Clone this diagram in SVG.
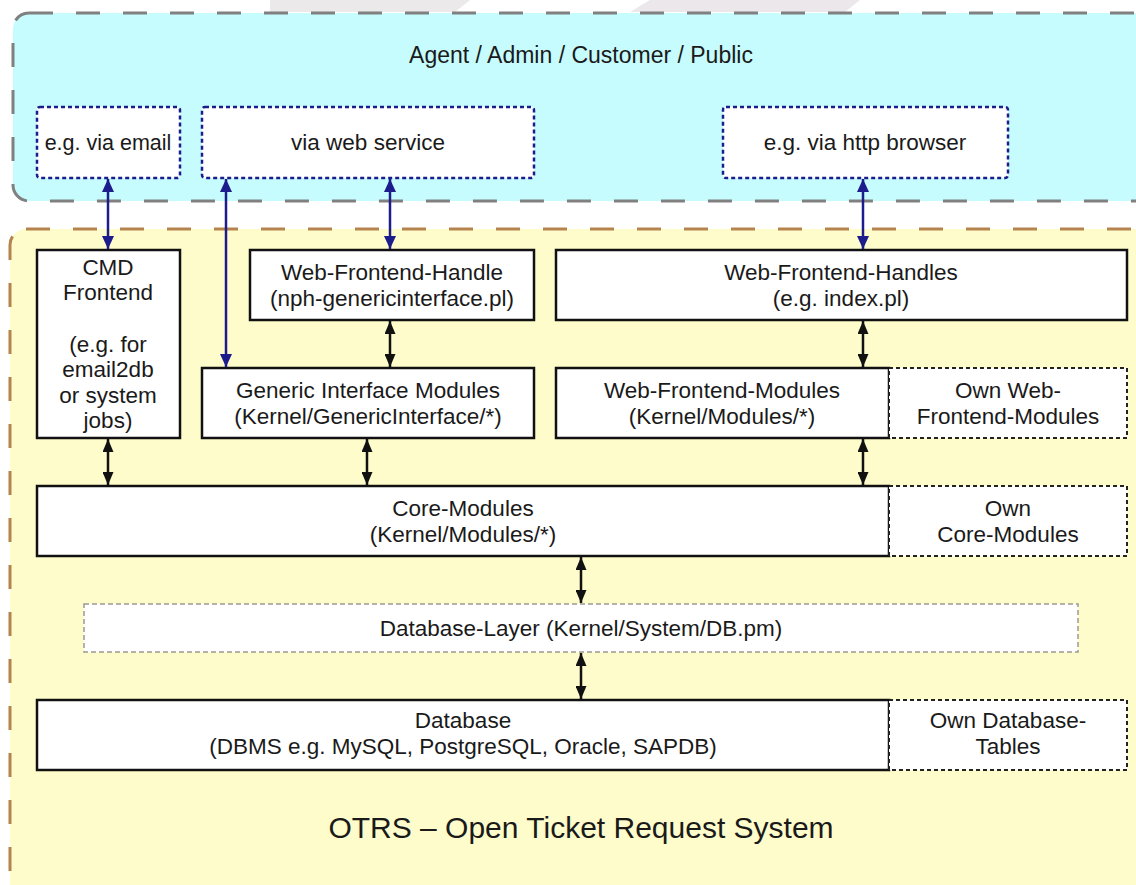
<svg xmlns="http://www.w3.org/2000/svg" width="1136" height="885" viewBox="0 0 1136 885">
<style>
text{font-family:"Liberation Sans",Arial,sans-serif;font-size:22.5px;fill:#1a1a1a;text-anchor:middle}
.box{fill:#fff;stroke:#111;stroke-width:2.5}
.own{fill:#fff;stroke:#222;stroke-width:2;stroke-dasharray:4 3}
.ch{fill:#fff;stroke:#1c1c8c;stroke-width:2.5;stroke-dasharray:4 3}
.blue{stroke:#1c1c8c;stroke-width:2.5;fill:none;marker-start:url(#ab);marker-end:url(#ab)}
.blk{stroke:#111;stroke-width:2.5;fill:none;marker-start:url(#ak);marker-end:url(#ak)}
</style>
<defs>
<marker id="ab" markerUnits="userSpaceOnUse" markerWidth="13" markerHeight="12" refX="13" refY="6" orient="auto-start-reverse"><path d="M0,0 L13,6 L0,12 z" fill="#1c1c8c"/></marker>
<marker id="ak" markerUnits="userSpaceOnUse" markerWidth="13" markerHeight="11" refX="13" refY="5.5" orient="auto-start-reverse"><path d="M0,0 L13,5.5 L0,11 z" fill="#111"/></marker>
</defs>
<rect width="1136" height="885" fill="#fff"/>
<g id="watermark">
<polygon points="270,0 470,0 455,12 270,12" fill="#ebe9e9"/>
<polygon points="650,0 860,0 845,12 630,12" fill="#ece7ea"/>
</g>
<g id="actors">
<rect x="13" y="13" width="1150" height="188" rx="16" fill="#c6fcfd" stroke="#808080" stroke-width="3" stroke-dasharray="24 23"/>
<text x="581" y="63" style="font-size:23px">Agent / Admin / Customer / Public</text>
</g>
<g id="otrs">
<rect x="10" y="229" width="1150" height="670" rx="16" fill="#fefccb" stroke="#b5844e" stroke-width="3" stroke-dasharray="24 23"/>
<text x="581" y="838" style="font-size:30px">OTRS – Open Ticket Request System</text>
</g>
<g id="via-email"><rect class="ch" x="37" y="107" width="143" height="71" rx="3"/><text x="108" y="150" style="font-size:21.5px">e.g. via email</text></g>
<g id="via-webservice"><rect class="ch" x="202" y="107" width="332" height="71" rx="3"/><text x="368" y="150">via web service</text></g>
<g id="via-http"><rect class="ch" x="723" y="107" width="285" height="71" rx="3"/><text x="865" y="150">e.g. via http browser</text></g>
<g id="cmd-frontend"><rect class="box" x="37" y="250" width="143" height="188"/>
<text x="108" y="275">CMD</text><text x="108" y="300">Frontend</text>
<text x="108" y="352">(e.g. for</text><text x="108" y="377">email2db</text><text x="108" y="403">or system</text><text x="108" y="428">jobs)</text></g>
<g id="wf-handle"><rect class="box" x="250" y="250" width="284" height="70"/><text x="392" y="280">Web-Frontend-Handle</text><text x="392" y="306">(nph-genericinterface.pl)</text></g>
<g id="wf-handles"><rect class="box" x="556" y="250" width="571" height="70"/><text x="841" y="280">Web-Frontend-Handles</text><text x="841" y="306">(e.g. index.pl)</text></g>
<g id="gi-modules"><rect class="box" x="202" y="368" width="332" height="70"/><text x="368" y="398">Generic Interface Modules</text><text x="368" y="424">(Kernel/GenericInterface/*)</text></g>
<g id="wf-modules"><rect class="box" x="556" y="368" width="333" height="70"/><text x="722" y="398">Web-Frontend-Modules</text><text x="722" y="424">(Kernel/Modules/*)</text></g>
<g id="own-wf-modules"><rect class="own" x="889" y="368" width="238" height="70"/><text x="1008" y="398">Own Web-</text><text x="1008" y="424">Frontend-Modules</text></g>
<g id="core-modules"><rect class="box" x="37" y="486" width="852" height="70"/><text x="463" y="516">Core-Modules</text><text x="463" y="542">(Kernel/Modules/*)</text></g>
<g id="own-core"><rect class="own" x="889" y="486" width="238" height="70"/><text x="1008" y="516">Own</text><text x="1008" y="542">Core-Modules</text></g>
<g id="db-layer"><rect x="84" y="604" width="994" height="48" fill="#fff" stroke="#999" stroke-width="1.5" stroke-dasharray="5 3"/><text x="581" y="636">Database-Layer (Kernel/System/DB.pm)</text></g>
<g id="database"><rect class="box" x="37" y="700" width="852" height="70"/><text x="463" y="728">Database</text><text x="463" y="754">(DBMS e.g. MySQL, PostgreSQL, Oracle, SAPDB)</text></g>
<g id="own-db"><rect class="own" x="889" y="700" width="238" height="70"/><text x="1008" y="728">Own Database-</text><text x="1008" y="754">Tables</text></g>
<g id="connectors">
<path class="blue" d="M108,179 L108,249"/>
<path class="blue" d="M226,179 L226,367"/>
<path class="blue" d="M390,179 L390,249"/>
<path class="blue" d="M863,179 L863,249"/>
<path class="blk" d="M390,321 L390,367"/>
<path class="blk" d="M863,321 L863,367"/>
<path class="blk" d="M108,439 L108,485"/>
<path class="blk" d="M367,439 L367,485"/>
<path class="blk" d="M863,439 L863,485"/>
<path class="blk" d="M581,557 L581,603"/>
<path class="blk" d="M581,653 L581,699"/>
</g>
</svg>
